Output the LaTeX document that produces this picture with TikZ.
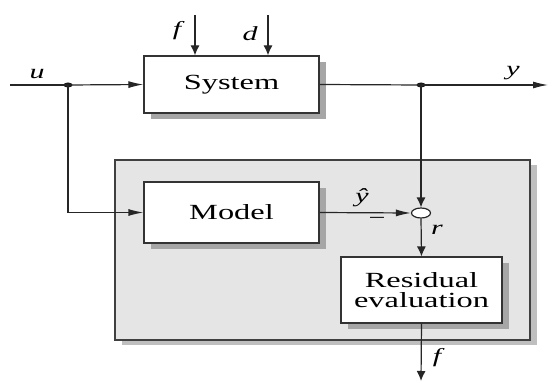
\documentclass[tikz,border=0pt]{standalone}
\usepackage{fontspec}
\setmainfont{Liberation Serif}
\usetikzlibrary{arrows.meta,shadows,shapes.geometric}
% horizontally widened text, as in the drawing
\newcommand{\hstretch}[1]{\scalebox{1.5}[1]{#1}}
\begin{document}
\begin{tikzpicture}[x=1pt,y=-1pt,line width=1.2pt,
  wire/.style={draw=black!85},
  harr/.style={wire,-{Latex[length=15pt,width=7pt]}},
  varr/.style={wire,-{Latex[length=10pt,width=9pt]}},
  block/.style={draw=black!80,fill=white,inner sep=0pt,
    font=\fontsize{21.6}{20}\selectfont,
    drop shadow={shadow xshift=7pt,shadow yshift=-6pt,fill=black!35,opacity=1}},
  panel/.style={draw=black!75,fill=black!10,inner sep=0pt,
    drop shadow={shadow xshift=7pt,shadow yshift=-5pt,fill=black!25,opacity=1}},
  junction/.style={ellipse,fill=black!90,minimum width=9pt,minimum height=5pt,inner sep=0pt},
  sumpoint/.style={ellipse,draw=black!85,fill=white,minimum width=19pt,minimum height=10pt,inner sep=0pt},
  lbl/.style={inner sep=0pt,font=\fontsize{20}{20}\selectfont\itshape}]
\useasboundingbox (0,0) rectangle (548,382);

% detector (shaded area)
\node[panel,minimum width=415pt,minimum height=180pt] (det) at (322.5,250) {};

% blocks
\node[block,minimum width=175pt,minimum height=57pt] (sys) at (231.5,84.5) {\hstretch{System}};
\node[block,minimum width=175pt,minimum height=61pt] (mod) at (231.5,212.5) {\hstretch{Model}};
\node[block,minimum width=161pt,minimum height=66pt,align=center] (res) at (421.5,290)
  {\hstretch{Residual}\\\hstretch{evaluation}};
\node[sumpoint] (sum) at (421,213) {};

% branch points and free ends
\node[junction] (uj) at (68,85) {};
\node[junction] (yj) at (421,85) {};
\coordinate (uin) at (10,85);
\coordinate (yout) at (548,85);
\coordinate (fin) at (195,15);
\coordinate (din) at (268,15);
\coordinate (fout) at (421,381);

% signals
\draw[wire] (uin) -- (uj.center);
\draw[harr] (uj.center) -- (sys.west);
\draw[varr] (fin) -- (fin|-sys.north);
\draw[varr] (din) -- (din|-sys.north);
\draw[wire] (sys.east) -- (yj.center);
\draw[harr] (yj.center) -- (yout);
\draw[varr] (yj.center) -- (sum.north);
\draw[harr] (uj.center) |- (mod.west);
\draw[harr] (mod.east) -- (sum.west);
\draw[varr] (sum.south) -- (res.north);
\draw[varr] (res.south) -- (fout);

% labels
\node[lbl] (lu) at (37,74) {\hstretch{u}};
\node[lbl] (lf) at (177,31) {\hstretch{f}};
\node[lbl] (ld) at (250,34) {\hstretch{d}};
\node[lbl] (ly) at (513,73) {\hstretch{y}};
\node[lbl] (lyh) at (362,198) {\hstretch{ŷ}};
\node[inner sep=0pt,font=\fontsize{20}{20}\selectfont] (lminus) at (377,221) {\hstretch{−}};
\node[lbl] (lr) at (437,230) {\hstretch{r}};
\node[lbl] (lfo) at (437,358) {\hstretch{f}};
\end{tikzpicture}
\end{document}
